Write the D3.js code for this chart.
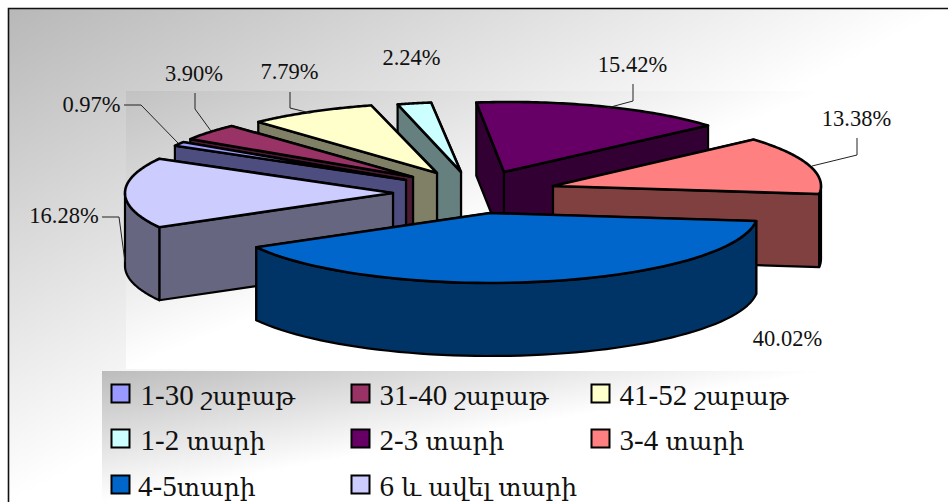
<!DOCTYPE html>
<html><head><meta charset="utf-8">
<script src="https://cdn.jsdelivr.net/npm/d3@7"></script>
<style>html,body{margin:0;padding:0;background:#fff;overflow:hidden}svg{display:block}</style>
</head><body><svg id="c" width="948" height="502"></svg>
<script>
const categories = ["1-30 շաբաթ","31-40 շաբաթ","41-52 շաբաթ","1-2 տարի","2-3 տարի","3-4 տարի","4-5տարի","6 և ավել տարի"];
const values = [0.97,3.90,7.79,2.24,15.42,13.38,40.02,16.28];
const colors = ["#9999FF","#993366","#FFFFCC","#CCFFFF","#660066","#FF8080","#0066CC","#CCCCFF"];

// layout of the exploded slices (top-face apex, horizontal radius, perspective shear)
const apexX = [406,413,437,461,504,553,490,393];
const apexY = [180,177,173,172,172,186,213,193];
const radiusX = [265,265,265,243,268,268,268,268];
const shear = [0,0,0.05,0,0.075,0,0,0];
const paintOrder = [3,4,2,1,0,7,5,6];
const RY = 70, DEPTH = 73;

const svg = d3.select("#c");
const defs = svg.append("defs");
[["bg","#b8b8b8"],["bgPlot","#c2c2c2"],["bgLeg","#bcbcbc"]].forEach(([id,col])=>{
  const grad = defs.append("linearGradient").attr("id",id).attr("x1",0).attr("y1",0).attr("x2",1).attr("y2",1);
  grad.append("stop").attr("offset","0").attr("stop-color",col);
  grad.append("stop").attr("offset","0.5").attr("stop-color","#ffffff");
});
const rects = [[9,9,939,493,"bg"],[126,91,699,278,"bgPlot"],[102,371,721,131,"bgLeg"]];
svg.selectAll("rect.bg").data(rects).join("rect").attr("class","bg")
  .attr("x",d=>d[0]).attr("y",d=>d[1]).attr("width",d=>d[2]).attr("height",d=>d[3]).attr("fill",d=>`url(#${d[4]})`);
svg.append("path").attr("d","M948,8.5H8.5V502").attr("fill","none").attr("stroke","#111").attr("stroke-width",1.6);

const START = 299.3*Math.PI/180;
const arcs = d3.pie().sort(null).startAngle(START).endAngle(START+2*Math.PI)(values);
const unit = d3.scaleLinear().domain([-1,1]);

function pt(i,t){
  const sx = unit.copy().range([-radiusX[i],radiusX[i]]);
  const sy = unit.copy().range([-RY,RY]);
  const dy = sy(-Math.cos(t));
  return [apexX[i]+sx(Math.sin(t))+shear[i]*(-dy), apexY[i]+dy];
}
const line = d3.line();
const g = svg.append("g");
paintOrder.forEach(i=>{
  const a = arcs[i], c = d3.color(colors[i]);
  const wall = d3.rgb(c.r*0.5,c.g*0.5,c.b*0.5).formatHex();
  const n = 60;
  const ts = d3.range(n+1).map(k=>a.startAngle+(a.endAngle-a.startAngle)*k/n);
  const apex = [apexX[i],apexY[i]];
  const down = p=>[p[0],p[1]+DEPTH];
  const quads = [a.startAngle,a.endAngle].map(t=>{
    const p = pt(i,t);
    return {y:(apex[1]+p[1])/2, pts:[apex,p,down(p),down(apex)]};
  }).sort((u,v)=>u.y-v.y);
  quads.forEach(q=>g.append("path").attr("d",line(q.pts)+"Z").attr("fill",wall)
    .attr("stroke","#000").attr("stroke-width",2.2).attr("stroke-linejoin","round"));
  const front = ts.filter(t=>Math.cos(t)<0);
  if(front.length>1){
    const topEdge = front.map(t=>pt(i,t));
    const pts = topEdge.concat(topEdge.slice().reverse().map(down));
    g.append("path").attr("d",line(pts)+"Z").attr("fill",wall)
      .attr("stroke","#000").attr("stroke-width",2.2).attr("stroke-linejoin","round");
  }
  const top = [apex].concat(ts.map(t=>pt(i,t)));
  g.append("path").attr("d",line(top)+"Z").attr("fill",colors[i])
    .attr("stroke","#000").attr("stroke-width",2.6).attr("stroke-linejoin","round");
});

// leader lines
const leaders = [
 [[124,105],[141,105],[178,143]],
 [[195,93],[195,109],[211,131]],
 [[290,92],[290,108],[310,113]],
 [[633,84],[633,101],[607,108]],
 [[857,138],[857,155],[812,166]],
 [[102,217],[119,217],[125,262]]
];
svg.append("g").selectAll("path").data(leaders).join("path").attr("d",d=>line(d))
  .attr("fill","none").attr("stroke","#222").attr("stroke-width",1);

// percentage labels
const labelX = [91.5,194,289.5,411.5,632.5,856.5,787.5,64];
const labelY = [112,81,79,65,72,126,346,223];
svg.append("g").selectAll("text").data(values).join("text")
  .attr("x",(d,i)=>labelX[i]).attr("y",(d,i)=>labelY[i]).attr("text-anchor","middle")
  .attr("font-family","'Liberation Serif',serif").attr("font-size",22.5).attr("fill","#111")
  .text(d=>d.toFixed(2)+"%");

// legend
const legX = [111.5,351.5,591.5], legY = [384.5,429.5,475.5], textDX=[29,28,28];
const leg = svg.append("g").selectAll("g").data(categories).join("g")
  .attr("transform",(d,i)=>`translate(${legX[i%3]},${legY[Math.floor(i/3)]})`);
leg.append("rect").attr("width",18).attr("height",18).attr("fill",(d,i)=>colors[i]).attr("stroke","#000").attr("stroke-width",2);
const legText = leg.append("text").attr("x",(d,i)=>i===6?26.5:textDX[i%3]).attr("y",20)
  .attr("font-family","'Liberation Serif','DejaVu Serif',serif").attr("fill","#111");
legText.each(function(d){
  const el = d3.select(this);
  d.split(/([\u0530-\u058F]+)/).filter(s=>s.length).forEach(s=>{
    el.append("tspan").attr("font-size",/[\u0530-\u058F]/.test(s)?25:29).text(s);
  });
});
</script></body></html>
